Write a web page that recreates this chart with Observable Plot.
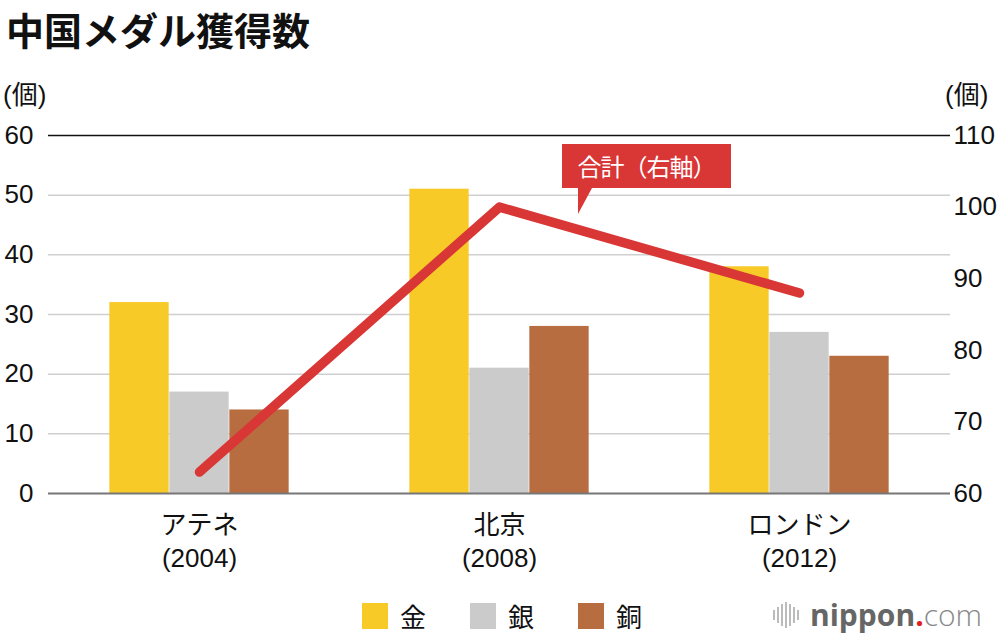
<!DOCTYPE html>
<html><head><meta charset="utf-8">
<script src="https://cdn.jsdelivr.net/npm/d3@7"></script>
<script src="https://cdn.jsdelivr.net/npm/@observablehq/plot@0.6"></script>
<style>
body{margin:0;width:1000px;height:640px;background:#fff;position:relative;overflow:hidden;font-family:"Liberation Sans","Noto Sans CJK JP",sans-serif;color:#111;}
#title{position:absolute;left:6px;top:4px;font-family:"Noto Sans CJK JP",sans-serif;font-weight:700;font-size:38px;line-height:50px;letter-spacing:0px;}
#chart{position:absolute;left:0;top:60px;}
.unit{position:absolute;top:74px;font-size:26px;}
#callout{position:absolute;left:562px;top:144px;width:169px;height:44px;background:#d93636;color:#fff;font-family:"Noto Sans CJK JP",sans-serif;font-size:24px;line-height:44px;text-align:center;letter-spacing:-1px;}
#callout:after{content:"";position:absolute;left:16px;top:44px;border-left:0 solid transparent;border-right:14px solid transparent;border-top:26px solid #d93636;}
#legend{position:absolute;top:597px;left:362px;display:flex;align-items:center;font-family:"Noto Sans CJK JP",sans-serif;font-size:26px;}
#legend .sw{width:26px;height:26px;margin-right:12px;}
#legend .it{display:flex;align-items:center;margin-right:44px;}
#logo{position:absolute;left:773px;top:594px;display:flex;align-items:center;}
#logo .w{display:flex;align-items:center;margin-right:9px;}
#logo .w div{width:2px;background:#bbb;margin-right:2px;}
#logo .t{font-family:"Open Sans","DejaVu Sans",sans-serif;font-size:30px;letter-spacing:0px;}
</style></head>
<body>
<div id="title">中国メダル獲得数</div>
<div class="unit" style="left:3px">(個)</div>
<div class="unit" style="left:945px">(個)</div>
<div id="chart"></div>
<div id="callout">合計（右軸）</div>
<div id="legend"></div>
<div id="logo"><div class="w"><div style="height:10px"></div><div style="height:16px"></div><div style="height:22px"></div><div style="height:26px"></div><div style="height:22px"></div><div style="height:16px"></div><div style="height:10px"></div></div><div class="t"><span style="color:#666;font-weight:700">nippon</span><span style="color:#e02020;font-weight:700">.</span><span style="color:#888;font-weight:300">com</span></div></div>
<script>
const cities = ["アテネ\n(2004)", "北京\n(2008)", "ロンドン\n(2012)"];
const medals = ["金", "銀", "銅"];
const gold = [32, 51, 38];
const silver = [17, 21, 27];
const bronze = [14, 28, 23];
const total = [63, 100, 88];
const leftTicks = [0, 10, 20, 30, 40, 50, 60];
const rightTicks = [60, 70, 80, 90, 100, 110];
const colors = ["#f8ca27", "#cacbca", "#b86d40"];

// right axis 60..110 mapped onto left 0..60
const toLeft = v => (v - 60) * 60 / 50;
const fromLeft = v => v * 50 / 60 + 60;

const series = [gold, silver, bronze];
const bars = [];
series.forEach((arr, i) => arr.forEach((v, j) => bars.push({city: cities[j], medal: medals[i], value: v, k: i})));
const lineData = cities.map((c, j) => ({city: c, v: toLeft(total[j])}));

const offsets = [-60, 0, 60];
const ff = '"Liberation Sans","Noto Sans CJK JP",sans-serif';
const plot = Plot.plot({
  width: 1000, height: 525,
  marginLeft: 48, marginRight: 50, marginTop: 75, marginBottom: 92,
  style: {fontFamily: ff, fontSize: "26px", color: "#111", background: "transparent"},
  x: {domain: cities, padding: 0, label: null},
  y: {domain: [0, 60], label: null},
  marks: [
    Plot.ruleY(leftTicks.slice(1, -1), {stroke: "#cfcfcf", strokeWidth: 1.5}),
    ...[0, 1, 2].map(i => Plot.barY(bars.filter(d => d.k === i), {
      x: "city", y: "value", fill: colors[i],
      insetLeft: (300.667 - 60) / 2, insetRight: (300.667 - 60) / 2, dx: offsets[i]
    })),
    Plot.ruleY([60], {stroke: "#111", strokeWidth: 1.5}),
    Plot.ruleY([0], {stroke: "#777", strokeWidth: 2}),
    Plot.line(lineData, {x: "city", y: "v", stroke: "#d93636", strokeWidth: 9.5, strokeLinecap: "round", strokeLinejoin: "round"}),
    Plot.axisY({anchor: "left", ticks: leftTicks, tickSize: 0, tickPadding: 15, label: null, fontSize: 26}),
    Plot.axisY({anchor: "right", ticks: rightTicks.map(toLeft), tickFormat: d => String(Math.round(fromLeft(d))), tickSize: 0, tickPadding: 3, label: null, fontSize: 26}),
    Plot.axisX({ticks: cities, tickSize: 0, tickPadding: 16, label: null, fontSize: 26, lineHeight: 1.3, fontFamily: ff})
  ]
});
document.getElementById("chart").appendChild(plot);

const lg = document.getElementById("legend");
medals.forEach((m, i) => {
  const it = document.createElement("div"); it.className = "it";
  it.innerHTML = `<div class="sw" style="background:${colors[i]}"></div><span>${m}</span>`;
  lg.appendChild(it);
});
</script>
</body></html>
